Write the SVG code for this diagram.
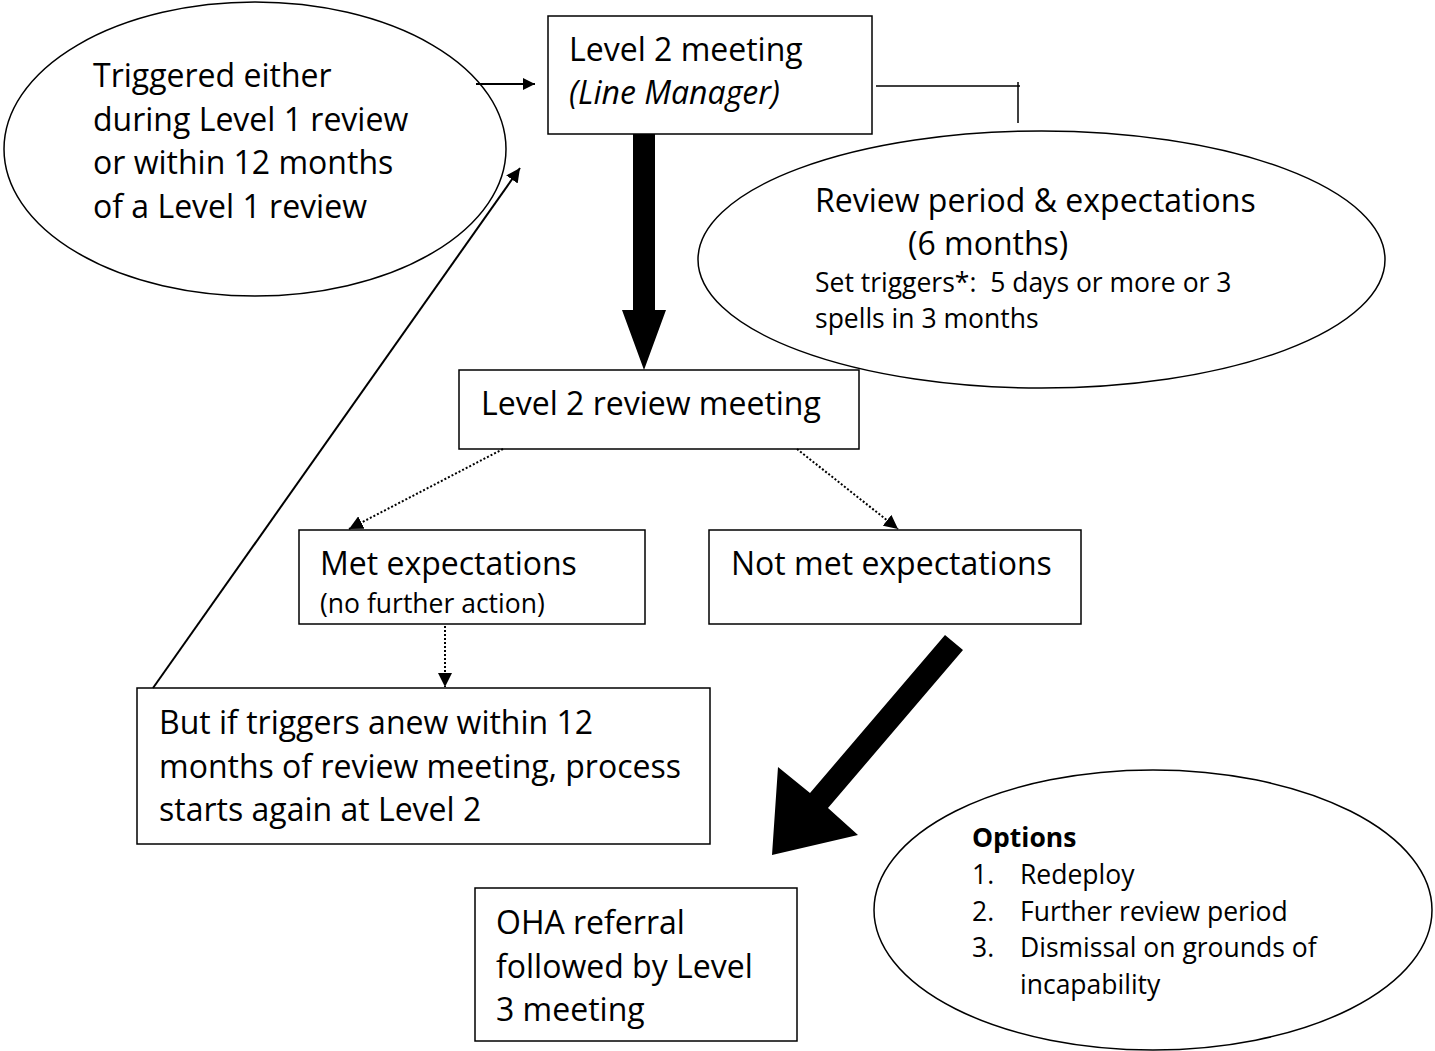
<svg xmlns="http://www.w3.org/2000/svg" width="1435" height="1051" viewBox="0 0 1435 1051">
<defs>
<style>
.box{fill:#fff;stroke:#000;stroke-width:1.5}
.ell{fill:#fff;stroke:#000;stroke-width:1.5}
.t{font-family:"Open Sans","Noto Sans","DejaVu Sans",sans-serif;font-size:32px;fill:#000;white-space:pre}
.s{font-size:26.5px}
.b{font-weight:bold}
.i{font-style:italic}
.ln{stroke:#000;stroke-width:2;fill:none}
.thin{stroke:#000;stroke-width:1.5;fill:none}
.dot{stroke:#000;stroke-width:2;stroke-dasharray:2 2;fill:none}
</style>
<marker id="ah" viewBox="0 0 10 10" refX="10" refY="5" markerWidth="14" markerHeight="12" markerUnits="userSpaceOnUse" orient="auto">
<path d="M0,0 L10,5 L0,10 z" fill="#000"/>
</marker>
<marker id="ahs" viewBox="0 0 10 10" refX="10" refY="5" markerWidth="14" markerHeight="14" markerUnits="userSpaceOnUse" orient="auto">
<path d="M0,0 L10,5 L0,10 z" fill="#000"/>
</marker>
</defs>
<rect width="1435" height="1051" fill="#fff"/>

<g id="node-trigger">
<ellipse class="ell" cx="255" cy="149" rx="251" ry="147"/>
<text class="t" x="93" y="87">Triggered either</text>
<text class="t" x="93" y="131">during Level 1 review</text>
<text class="t" x="93" y="174">or within 12 months</text>
<text class="t" x="93" y="218">of a Level 1 review</text>
</g>

<g id="node-level2">
<rect class="box" x="548" y="16" width="324" height="118"/>
<text class="t" x="569" y="61">Level 2 meeting</text>
<text class="t i" x="569" y="104">(Line Manager)</text>
</g>

<g id="node-review-period">
<ellipse class="ell" cx="1041.5" cy="259.5" rx="343.5" ry="128.5"/>
<text class="t" x="815" y="212">Review period &amp; expectations</text>
<text class="t" x="908" y="255">(6 months)</text>
<text class="t s" x="815" y="292">Set triggers*:  5 days or more or 3</text>
<text class="t s" x="815" y="328">spells in 3 months</text>
</g>

<g id="node-review-meeting">
<rect class="box" x="459" y="370" width="400" height="79"/>
<text class="t" x="481" y="415">Level 2 review meeting</text>
</g>

<g id="node-met">
<rect class="box" x="299" y="530" width="346" height="94"/>
<text class="t" x="320" y="575">Met expectations</text>
<text class="t s" x="320" y="613">(no further action)</text>
</g>

<g id="node-not-met">
<rect class="box" x="709" y="530" width="372" height="94"/>
<text class="t" x="731" y="575">Not met expectations</text>
</g>

<g id="node-anew">
<rect class="box" x="137" y="688" width="573" height="156"/>
<text class="t" x="159" y="734">But if triggers anew within 12</text>
<text class="t" x="159" y="778">months of review meeting, process</text>
<text class="t" x="159" y="821">starts again at Level 2</text>
</g>

<g id="node-options">
<ellipse class="ell" cx="1153" cy="910" rx="279" ry="140"/>
<text class="t s b" x="972" y="847">Options</text>
<text class="t s" x="972" y="884">1.</text>
<text class="t s" x="1020" y="884">Redeploy</text>
<text class="t s" x="972" y="921">2.</text>
<text class="t s" x="1020" y="921">Further review period</text>
<text class="t s" x="972" y="957">3.</text>
<text class="t s" x="1020" y="957">Dismissal on grounds of</text>
<text class="t s" x="1020" y="994">incapability</text>
</g>

<g id="node-oha">
<rect class="box" x="475" y="888" width="322" height="153"/>
<text class="t" x="496" y="934">OHA referral</text>
<text class="t" x="496" y="978">followed by Level</text>
<text class="t" x="496" y="1021">3 meeting</text>
</g>

<g id="connectors">
<line class="ln" x1="476" y1="84" x2="535" y2="84" marker-end="url(#ah)"/>
<polyline class="thin" points="876,86 1020,86"/>
<line class="thin" x1="1018" y1="82" x2="1018" y2="123"/>
<polygon points="633,134 655,134 655,310 666,310 644,370 622,310 633,310" fill="#000"/>
<line class="ln" x1="153" y1="688" x2="520" y2="168" marker-end="url(#ahs)"/>
<line class="dot" x1="503" y1="449" x2="349" y2="529" marker-end="url(#ahs)"/>
<line class="dot" x1="797" y1="449" x2="898" y2="529" marker-end="url(#ahs)"/>
<line class="dot" x1="445" y1="626" x2="445" y2="687" marker-end="url(#ahs)"/>
<polygon points="945,635 963,650 828,808 858,835 772,855 778,767 810,793" fill="#000"/>
</g>
</svg>
